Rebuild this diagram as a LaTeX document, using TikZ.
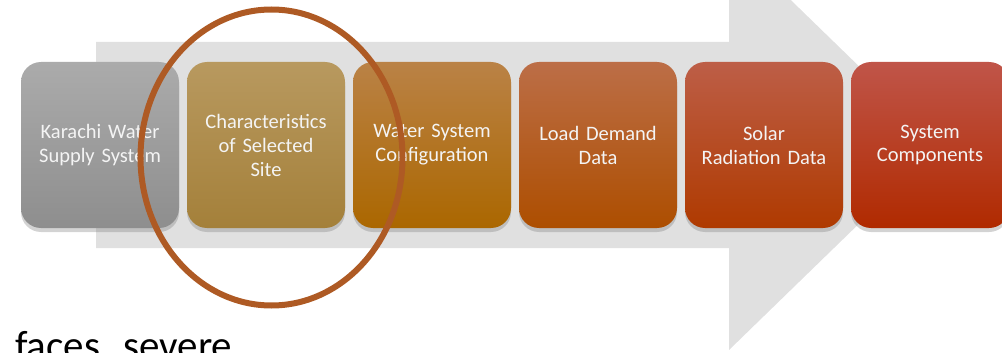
\documentclass[tikz,border=0pt]{standalone}
\usepackage{fontspec}
\setmainfont{Carlito}
\usetikzlibrary{shadows,positioning}

\definecolor{arrowgray}{HTML}{E0E0E0}
\definecolor{ringbrown}{HTML}{AE5A24}
\definecolor{labelwhite}{HTML}{F4F4F4}

\tikzstyle{stage} = [rectangle, rounded corners=20pt, minimum width=158pt, minimum height=166pt, text width=144pt, align=center, inner sep=0pt, text=labelwhite, node distance=166pt, font=\fontsize{20.5}{24}\selectfont, drop shadow={opacity=0.35, shadow xshift=0pt, shadow yshift=-4pt}]
\tikzstyle{ring} = [draw=ringbrown, line width=6pt]

\begin{document}
\begin{tikzpicture}[x=1pt, y=-1pt]
		\useasboundingbox (0,0) rectangle (1002,353);
		\clip (0,0) rectangle (1002,353);
		
		% big background arrow
		\fill [arrowgray] (96,42) -- (729,42) -- (729,-60) -- (940,145) -- (729,350) -- (729,248) -- (96,248) -- cycle;
		
		\node [stage, top color={rgb,255:red,171;green,171;blue,171}, bottom color={rgb,255:red,142;green,142;blue,142}] (s1) at (100,145) {Karachi Water\\Supply System};
		\node [stage, right of=s1, top color={rgb,255:red,184;green,153;blue,95}, bottom color={rgb,255:red,164;green,128;blue,58}] (s2) {Characteristics\\of Selected\\Site};
		\node [stage, right of=s2, top color={rgb,255:red,186;green,130;blue,70}, middle color={rgb,255:red,176;green,109;blue,0}, bottom color={rgb,255:red,171;green,103;blue,0}] (s3) {Water System\\Configuration};
		\node [stage, right of=s3, top color={rgb,255:red,188;green,110;blue,71}, middle color={rgb,255:red,180;green,85;blue,0}, bottom color={rgb,255:red,173;green,78;blue,0}] (s4) {Load Demand\\Data};
		\node [stage, right of=s4, top color={rgb,255:red,189;green,94;blue,71}, middle color={rgb,255:red,181;green,66;blue,0}, bottom color={rgb,255:red,175;green,58;blue,0}] (s5) {Solar\\Radiation Data};
		\node [stage, right of=s5, top color={rgb,255:red,192;green,85;blue,73}, middle color={rgb,255:red,183;green,47;blue,4}, bottom color={rgb,255:red,176;green,42;blue,0}] (s6) {System\\Components};
		
		% highlight round the selected site
		\draw [ring] (271.5,157.5) ellipse [x radius=131pt, y radius=148pt];
		
		\node [anchor=base west, inner sep=0pt, font=\fontsize{41}{48}\selectfont] (txt) at (15,359) {faces\hspace{23pt}severe};
\end{tikzpicture}
\end{document}
